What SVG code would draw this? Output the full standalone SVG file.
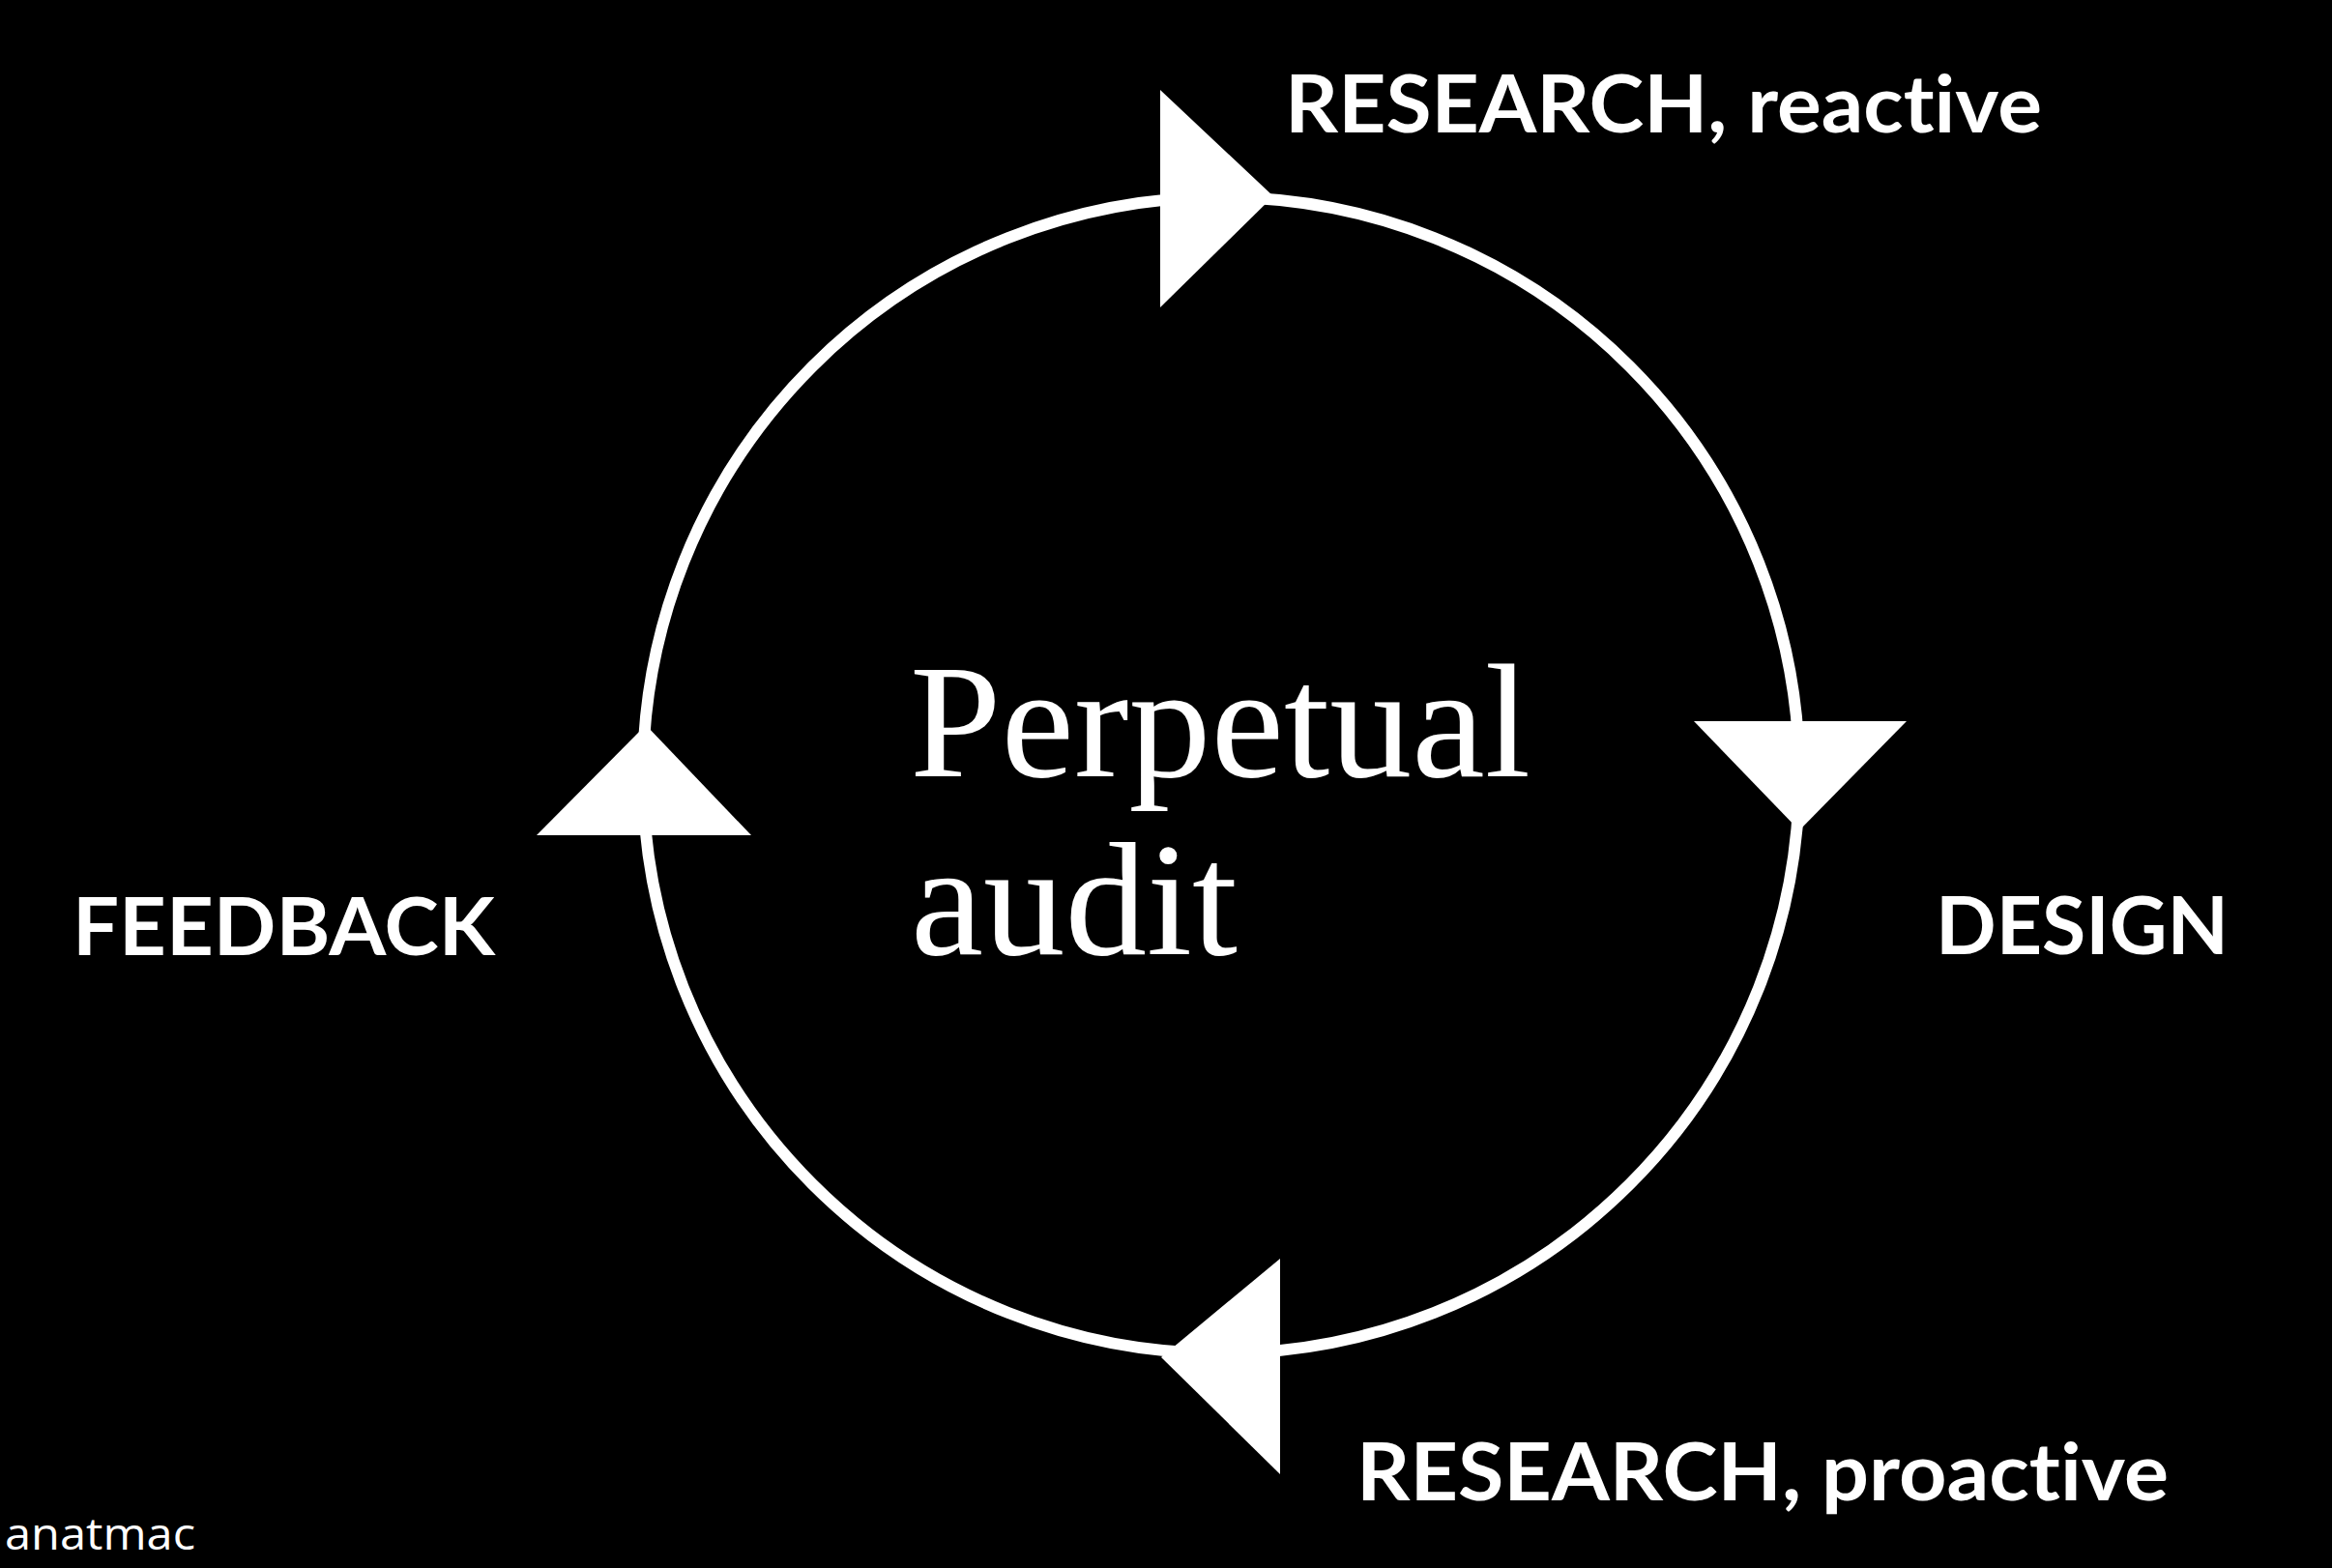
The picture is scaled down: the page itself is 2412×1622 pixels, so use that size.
<svg xmlns="http://www.w3.org/2000/svg" width="2412" height="1622" viewBox="0 0 2412 1622">
  <style>
    .lbl { font-family: Lato, "Open Sans", "Liberation Sans", sans-serif; font-weight: 700; font-size: 82px; fill: #ffffff; font-variant-ligatures: none; font-feature-settings: "liga" 0, "clig" 0; }
    .title { font-family: "Liberation Serif", "Times New Roman", serif; font-size: 168px; fill: #ffffff; }
    .credit { font-family: "Open Sans", "Noto Sans", "Liberation Sans", sans-serif; font-size: 46px; fill: #ffffff; }
    .ring { fill: none; stroke: #ffffff; stroke-width: 12; }
    .arrow { fill: #ffffff; stroke: none; }
  </style>
  <rect x="0" y="0" width="2412" height="1622" fill="#000000"/>
  <g id="connectors">
    <circle class="ring" cx="1263" cy="802" r="598"/>
    <polygon class="arrow" points="1200,93 1200,318 1317,203"/>
    <polygon class="arrow" points="1752,746 1972,746 1861,859"/>
    <polygon class="arrow" points="1324,1302 1324,1525 1201,1404"/>
    <polygon class="arrow" points="668,750 555,864 777,864"/>
  </g>
  <g id="center">
    <text class="title" x="941" y="803" textLength="642" lengthAdjust="spacingAndGlyphs">Perpetual</text>
    <text class="title" x="942" y="987" textLength="338" lengthAdjust="spacingAndGlyphs">audit</text>
  </g>
  <g id="research-reactive">
    <text class="lbl" x="1329" y="137" textLength="783" lengthAdjust="spacingAndGlyphs">RESEARCH, reactive</text>
  </g>
  <g id="design">
    <text class="lbl" x="2002" y="987" textLength="303" lengthAdjust="spacingAndGlyphs">DESIGN</text>
  </g>
  <g id="research-proactive">
    <text class="lbl" x="1403" y="1552" textLength="840" lengthAdjust="spacingAndGlyphs">RESEARCH, proactive</text>
  </g>
  <g id="feedback">
    <text class="lbl" x="75" y="988" textLength="437" lengthAdjust="spacingAndGlyphs">FEEDBACK</text>
  </g>
  <g id="credit">
    <text class="credit" x="5" y="1603" textLength="197" lengthAdjust="spacingAndGlyphs">anatmac</text>
  </g>
</svg>
